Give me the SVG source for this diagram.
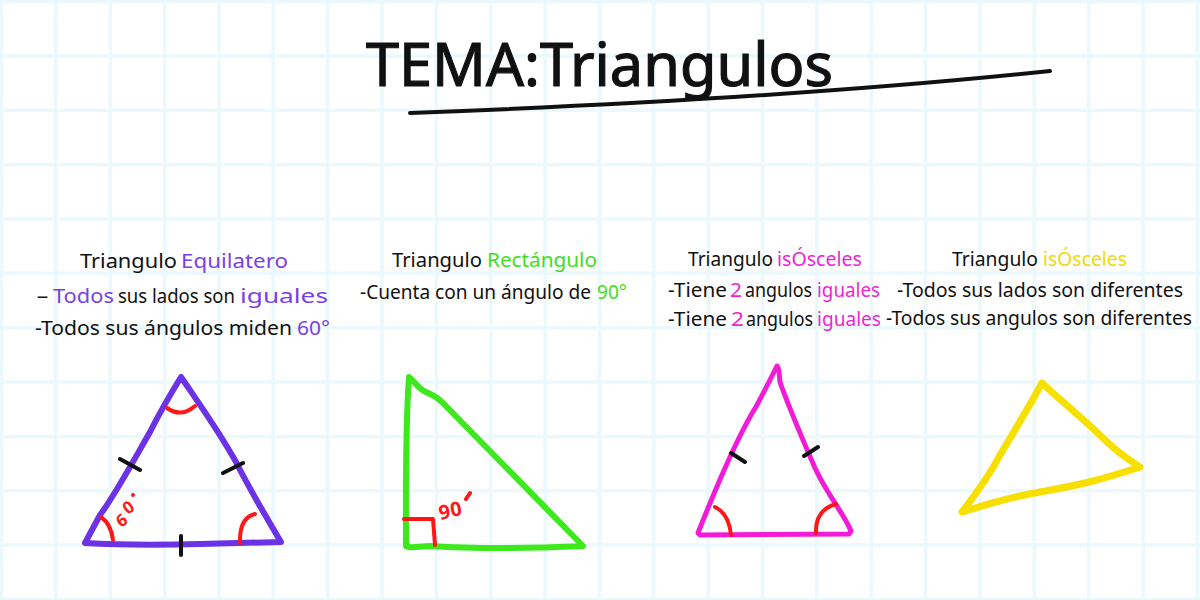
<svg xmlns="http://www.w3.org/2000/svg" width="1200" height="600" viewBox="0 0 1200 600">
<style>
.t{font-family:"Noto Sans","DejaVu Sans",sans-serif;font-size:19px;fill:#111}
.pu{fill:#7b3fe9}.gr{fill:#3ee01e}.mg{fill:#f01fd6}.ye{fill:#f2d900}
.ttl{font-family:"Noto Sans","DejaVu Sans",sans-serif;font-size:61px;font-weight:400;fill:#111;stroke:#111;stroke-width:1.2}
.sk{fill:none;stroke-linecap:round;stroke-linejoin:round}
.red{stroke:#ff1616;stroke-width:4}
.tick{stroke:#111;stroke-width:4}
.num{font-family:"Noto Sans","DejaVu Sans",sans-serif;font-weight:700;fill:#ff1616}
</style>
<rect width="1200" height="600" fill="#ffffff"/>
<g id="grid" stroke="#ebf8fc" stroke-width="3.5" fill="none">
<path d="M1.5,0V600M55.9,0V600M110.2,0V600M164.6,0V600M219,0V600M273.3,0V600M327.7,0V600M382,0V600M436.4,0V600M490.7,0V600M545.1,0V600M599.5,0V600M653.8,0V600M708.2,0V600M762.5,0V600M816.9,0V600M871.3,0V600M925.6,0V600M980,0V600M1034.3,0V600M1088.7,0V600M1143.1,0V600M1197.4,0V600"/>
<path d="M0,1.5H1200M0,55.9H1200M0,110.2H1200M0,164.6H1200M0,219H1200M0,273.3H1200M0,327.7H1200M0,382H1200M0,436.4H1200M0,490.7H1200M0,545.1H1200M0,599.5H1200"/>
</g>
<g id="title">
<text class="ttl" x="366" y="86" textLength="467" lengthAdjust="spacingAndGlyphs">TEMA:Triangulos</text>
<path class="sk" d="M410,113 C650,104 860,91 1050,71" stroke="#111" stroke-width="4"/>
</g>
<g id="connectors"/>
<g id="equilatero">
<text class="t" x="80" y="268" textLength="97" lengthAdjust="spacingAndGlyphs">Triangulo</text>
<text class="t pu" x="181" y="268" textLength="107" lengthAdjust="spacingAndGlyphs">Equilatero</text>
<text class="t" x="36" y="303" textLength="13" lengthAdjust="spacingAndGlyphs">-</text>
<text class="t pu" x="53" y="303" textLength="61" lengthAdjust="spacingAndGlyphs">Todos</text>
<text class="t" x="118" y="303" textLength="117" lengthAdjust="spacingAndGlyphs">sus lados son</text>
<text class="t pu" x="240" y="303" textLength="88" lengthAdjust="spacingAndGlyphs">iguales</text>
<text class="t" x="35" y="335" textLength="257" lengthAdjust="spacingAndGlyphs">-Todos sus ángulos miden</text>
<text class="t pu" x="297" y="335" textLength="33" lengthAdjust="spacingAndGlyphs">60°</text>
<path class="sk" d="M181,377 C170,395 160,412 150,432 C135,458 115,495 100,515 L85,543 C120,545 160,545 200,544 L281,542 C265,515 250,490 236,462 C218,430 200,405 181,377 Z" stroke="#6b32e6" stroke-width="6"/>
<path class="sk red" d="M167,408 Q181,418 195,406 M101,517 Q111,524 113,540 M240,543 Q239,518 255,514"/>
<path class="sk tick" d="M120,459 L140,470 M223,473 L243,463 M181,536 L181,555"/>
<text class="num" x="121" y="528" font-size="17" dy="0 -13" dx="0 -3" rotate="-35">60</text>
<circle cx="133" cy="495" r="2" fill="#ff1616"/>
</g>
<g id="rectangulo">
<text class="t" x="392" y="267" textLength="90" lengthAdjust="spacingAndGlyphs">Triangulo</text>
<text class="t gr" x="487" y="267" textLength="110" lengthAdjust="spacingAndGlyphs">Rectángulo</text>
<text class="t" x="360" y="299" textLength="231" lengthAdjust="spacingAndGlyphs">-Cuenta con un ángulo de</text>
<text class="t gr" x="597" y="299" textLength="30" lengthAdjust="spacingAndGlyphs">90°</text>
<path class="sk" d="M409,377 C414,381 418,388 424,391 C430,394 436,396 442,402 L583,546 C540,548 480,549 430,546 C420,546 410,549 406,546 C406,500 405,430 409,377 Z" stroke="#3de81c" stroke-width="6"/>
<path class="sk red" d="M404,519 L433,519 L435,545 M466,499 L470,493"/>
<text class="num" x="440" y="520" font-size="20" dy="0 -3" rotate="-10">90</text>
</g>
<g id="isosceles">
<text class="t" x="688" y="266" textLength="85" lengthAdjust="spacingAndGlyphs">Triangulo</text>
<text class="t mg" x="777" y="266" textLength="85" lengthAdjust="spacingAndGlyphs">isÓsceles</text>
<text class="t" x="668" y="297" textLength="59" lengthAdjust="spacingAndGlyphs">-Tiene</text>
<text class="t mg" x="730" y="297" textLength="12" lengthAdjust="spacingAndGlyphs">2</text>
<text class="t" x="745" y="297" textLength="67" lengthAdjust="spacingAndGlyphs">angulos</text>
<text class="t mg" x="817" y="297" textLength="63" lengthAdjust="spacingAndGlyphs">iguales</text>
<text class="t" x="668" y="326" textLength="59" lengthAdjust="spacingAndGlyphs">-Tiene</text>
<text class="t mg" x="731" y="326" textLength="13" lengthAdjust="spacingAndGlyphs">2</text>
<text class="t" x="746" y="326" textLength="67" lengthAdjust="spacingAndGlyphs">angulos</text>
<text class="t mg" x="817" y="326" textLength="64" lengthAdjust="spacingAndGlyphs">iguales</text>
<path class="sk" d="M777,366 C781,372 778,378 781,385 C792,415 805,445 815,468 C828,496 843,512 851,531 L849,534 L700,535 L698,533 C713,495 735,440 757,405 C766,388 772,376 777,366 Z" stroke="#f21bd8" stroke-width="5"/>
<path class="sk tick" d="M731,453 L745,462 M804,456 L818,447"/>
<path class="sk red" d="M715,507 Q729,514 731,535 M816,533 Q815,510 836,504"/>
</g>
<g id="escaleno">
<text class="t" x="952" y="266" textLength="86" lengthAdjust="spacingAndGlyphs">Triangulo</text>
<text class="t ye" x="1043" y="266" textLength="84" lengthAdjust="spacingAndGlyphs">isÓsceles</text>
<text class="t" x="897" y="297" textLength="286" lengthAdjust="spacingAndGlyphs">-Todos sus lados son diferentes</text>
<text class="t" x="886" y="325" textLength="306" lengthAdjust="spacingAndGlyphs">-Todos sus angulos son diferentes</text>
<path class="sk" d="M1042,383 C1060,400 1085,420 1105,440 C1120,455 1130,460 1140,467 C1100,480 1080,485 1040,492 C1010,497 985,505 962,512 C975,495 990,475 1000,455 C1015,430 1030,405 1042,383 Z" stroke="#f7e000" stroke-width="7"/>
</g>
</svg>
